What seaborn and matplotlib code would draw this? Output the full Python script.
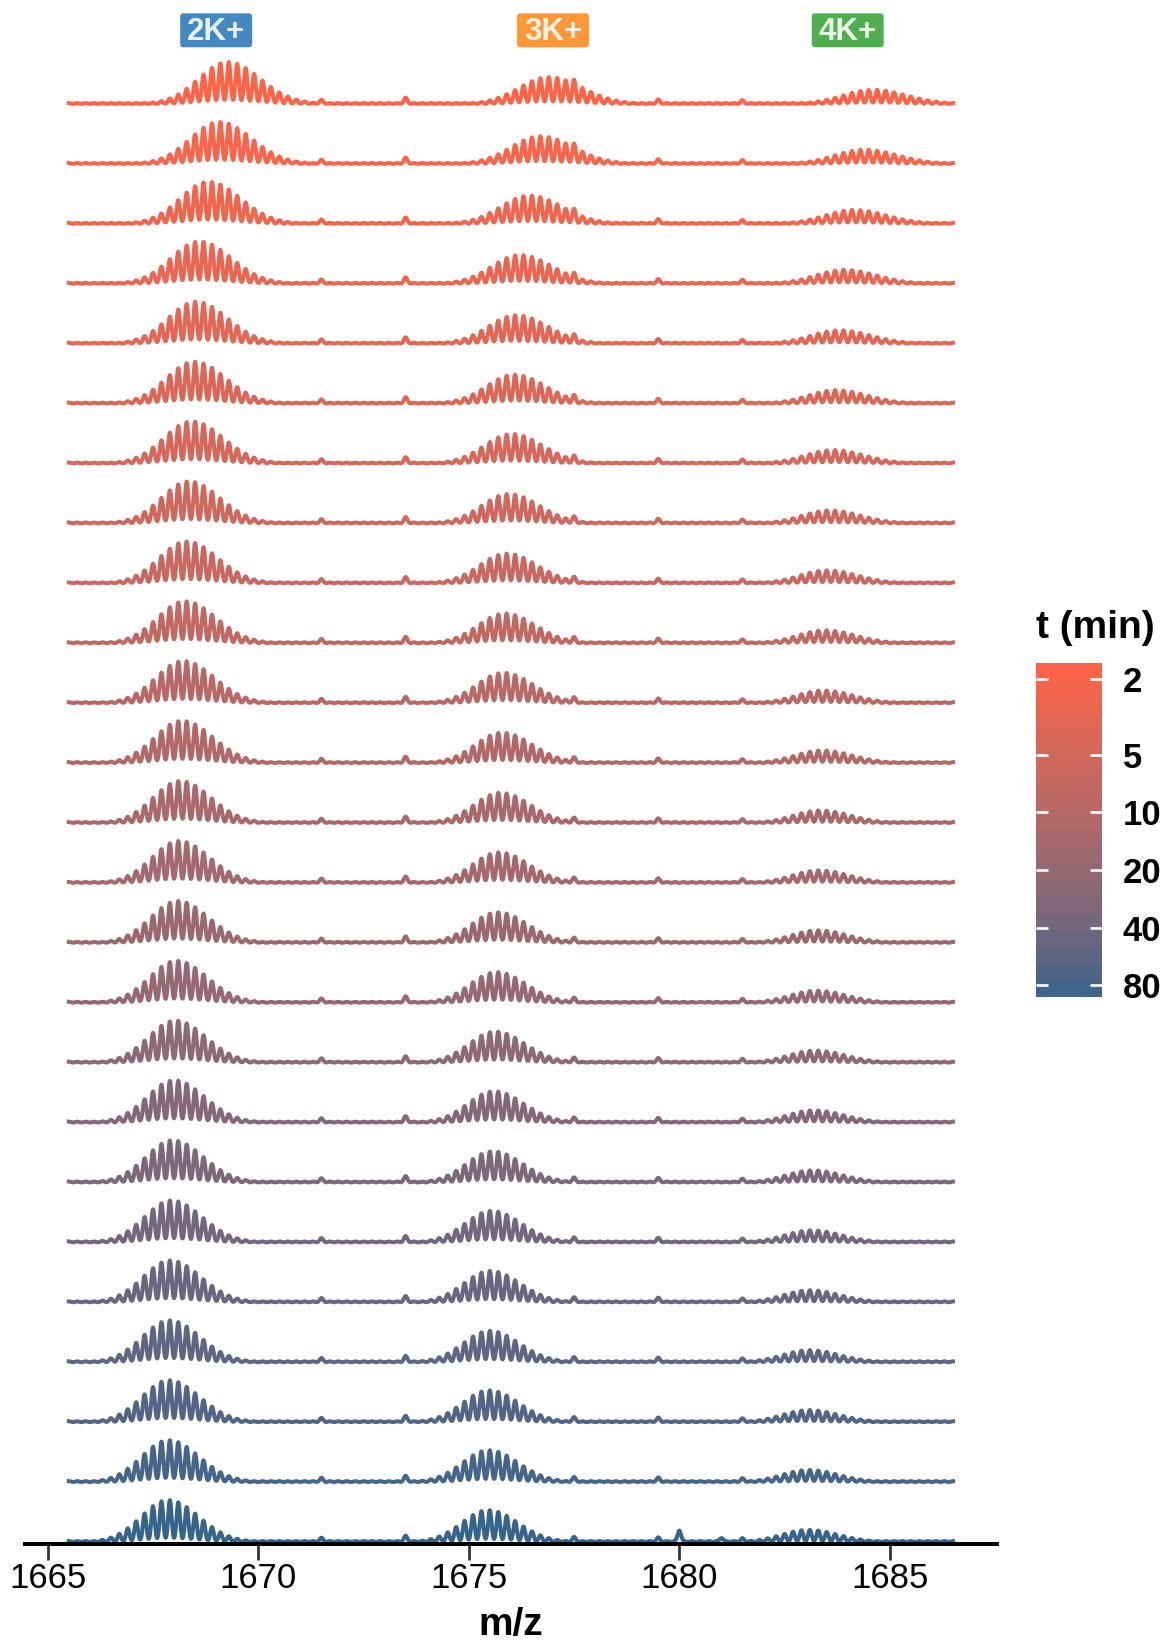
import numpy as np
import pandas as pd
import matplotlib
matplotlib.use("Agg")
import matplotlib.pyplot as plt
import seaborn as sns
from matplotlib.colors import LogNorm, ListedColormap, LinearSegmentedColormap
from matplotlib.patches import FancyBboxPatch
from matplotlib.cm import ScalarMappable

plt.rcParams["font.family"] = ["Liberation Sans", "DejaVu Sans"]

# ---------------------------------------------------------------- data
# acquisition time of each spectrum (min), top trace first
times = [1.66, 1.96, 2.32, 2.75, 3.24, 3.83, 4.53, 5.36, 6.33, 7.49, 8.85, 10.5,
         12.4, 14.6, 17.3, 20.4, 24.1, 28.5, 33.7, 39.9, 47.1, 55.7, 65.8, 77.8, 92.0]

# isotope-envelope centres (m/z) for the three potassium adduct states
center_2k = [1669.27, 1669.07, 1668.82, 1668.60, 1668.52, 1668.48, 1668.42, 1668.35,
             1668.30, 1668.26, 1668.22, 1668.19, 1668.15, 1668.12, 1668.09, 1668.06,
             1668.03, 1668.00, 1667.97, 1667.94, 1667.91, 1667.89, 1667.88, 1667.87, 1667.86]
center_3k = [1676.90, 1676.70, 1676.44, 1676.22, 1676.13, 1676.08, 1676.02, 1675.95,
             1675.90, 1675.86, 1675.82, 1675.79, 1675.75, 1675.72, 1675.69, 1675.66,
             1675.63, 1675.60, 1675.57, 1675.54, 1675.51, 1675.49, 1675.48, 1675.47, 1675.46]
center_4k = [1684.60, 1684.40, 1684.15, 1683.92, 1683.80, 1683.72, 1683.65, 1683.57,
             1683.51, 1683.46, 1683.42, 1683.39, 1683.35, 1683.32, 1683.29, 1683.26,
             1683.23, 1683.20, 1683.17, 1683.14, 1683.11, 1683.09, 1683.08, 1683.07, 1683.06]

# relative envelope heights (2K+ is the base peak of every spectrum)
height_2k = [1.0] * 25
height_3k = [0.64, 0.66, 0.67, 0.68, 0.68, 0.69, 0.70, 0.70, 0.71, 0.71, 0.72, 0.72,
             0.72, 0.73, 0.73, 0.73, 0.74, 0.74, 0.74, 0.75, 0.75, 0.75, 0.76, 0.76, 0.76]
height_4k = [0.34, 0.34, 0.33, 0.33, 0.32, 0.32, 0.32, 0.31, 0.31, 0.31, 0.30, 0.30,
             0.30, 0.30, 0.30, 0.29, 0.29, 0.29, 0.29, 0.29, 0.29, 0.29, 0.29, 0.29, 0.29]

# envelope widths (sd on the low-mass side, m/z)
width_2k = [0.68, 0.68, 0.67, 0.67, 0.66, 0.66, 0.66, 0.65, 0.65, 0.65, 0.65, 0.65,
            0.64, 0.64, 0.64, 0.64, 0.64, 0.64, 0.64, 0.64, 0.64, 0.64, 0.64, 0.64, 0.64]
width_3k = [0.70, 0.69, 0.68, 0.67, 0.66, 0.65, 0.65, 0.64, 0.64, 0.63, 0.63, 0.63,
            0.62, 0.62, 0.62, 0.62, 0.62, 0.62, 0.62, 0.62, 0.62, 0.62, 0.62, 0.62, 0.62]
width_4k = [0.70, 0.69, 0.68, 0.67, 0.66, 0.65, 0.65, 0.64, 0.64, 0.63, 0.63, 0.63,
            0.62, 0.62, 0.62, 0.62, 0.62, 0.62, 0.62, 0.62, 0.62, 0.62, 0.62, 0.62, 0.62]

# minor species present in every spectrum
minor_mz = [1671.5, 1673.5, 1677.5, 1679.5, 1681.5]
minor_h = [0.08, 0.13, 0.10, 0.09, 0.07]
# extra peaks seen only in the last spectrum
extra_mz = [1680.0, 1681.0]
extra_h = [0.27, 0.09]

tag_labels = ["2K+", "3K+", "4K+"]
tag_mz = [1669.0, 1677.0, 1684.0]
tag_colors = ["#4389C0", "#FF9736", "#4FAF4F"]

cbar_ticks = [2, 5, 10, 20, 40, 80]
x_ticks = [1665, 1670, 1675, 1680, 1685]

# ---------------------------------------------------------------- spectra
ISO_STEP = 0.2      # isotope spacing, z = 5
PEAK_SD = 0.041     # width of a single isotope peak
FLOOR = 0.022       # chemical-noise level
SKEW = 1.13         # high-mass side of an envelope is broader
ROW_GAP = 1.43      # vertical offset between stacked spectra

mz = np.arange(1665.5, 1686.5 + 1e-9, 0.004)
grid = np.arange(1665.5, 1686.5 + 1e-9, ISO_STEP)


def envelope(x, c, h, sd):
    s = np.where(x < c, sd, sd * SKEW)
    return h * np.exp(-0.5 * ((x - c) / s) ** 2)


def peaks(x, centres, heights, sd=PEAK_SD):
    c = np.asarray(centres)[None, :]
    h = np.asarray(heights)[None, :]
    return (h * np.exp(-0.5 * ((x[:, None] - c) / sd) ** 2)).sum(axis=1)


frames = []
n = len(times)
for i in range(n):
    env = (envelope(grid, center_2k[i], height_2k[i], width_2k[i])
           + envelope(grid, center_3k[i], height_3k[i], width_3k[i])
           + envelope(grid, center_4k[i], height_4k[i], width_4k[i]))
    env = np.maximum(env, FLOOR)
    spec = peaks(mz, grid, env) + peaks(mz, minor_mz, minor_h)
    if i == n - 1:
        spec = spec + peaks(mz, extra_mz, extra_h)
    spec = spec / spec[mz < 1671].max()
    frames.append(pd.DataFrame({"mz": mz,
                                "y": spec + ROW_GAP * (n - 1 - i),
                                "t": times[i]}))
df = pd.concat(frames, ignore_index=True)

# ---------------------------------------------------------------- colours
def srgb_to_lab(rgb):
    c = np.asarray(rgb, float)
    lin = np.where(c <= 0.04045, c / 12.92, ((c + 0.055) / 1.055) ** 2.4)
    M = np.array([[0.4124564, 0.3575761, 0.1804375],
                  [0.2126729, 0.7151522, 0.0721750],
                  [0.0193339, 0.1191920, 0.9503041]])
    xyz = M @ lin / np.array([0.95047, 1.0, 1.08883])
    d = 6 / 29
    f = np.where(xyz > d ** 3, np.cbrt(xyz), xyz / (3 * d * d) + 4 / 29)
    return np.array([116 * f[1] - 16, 500 * (f[0] - f[1]), 200 * (f[1] - f[2])])


def lab_to_srgb(lab):
    L, a, b = lab
    fy = (L + 16) / 116
    fx = fy + a / 500
    fz = fy - b / 200
    d = 6 / 29
    f = np.array([fx, fy, fz])
    xyz = np.where(f > d, f ** 3, 3 * d * d * (f - 4 / 29)) * np.array([0.95047, 1.0, 1.08883])
    Minv = np.array([[3.2404542, -1.5371385, -0.4985314],
                     [-0.9692660, 1.8760108, 0.0415560],
                     [0.0556434, -0.2040259, 1.0572252]])
    lin = np.clip(Minv @ xyz, 0, 1)
    c = np.where(lin <= 0.0031308, 12.92 * lin, 1.055 * lin ** (1 / 2.4) - 0.055)
    return np.clip(c, 0, 1)


high_col = np.array([255, 99, 71]) / 255     # tomato
low_col = np.array([54, 100, 139]) / 255     # steelblue4
lab_hi, lab_lo = srgb_to_lab(high_col), srgb_to_lab(low_col)
ramp = [lab_to_srgb(lab_hi + (lab_lo - lab_hi) * f) for f in np.linspace(0, 1, 256)]
cmap = LinearSegmentedColormap.from_list("time_ramp", ramp)
tmin, tmax = min(times), max(times)
norm = LogNorm(vmin=tmin, vmax=tmax)

# ---------------------------------------------------------------- figure
W_PX, H_PX = 1167, 1642
fig = plt.figure(figsize=(W_PX / 100, H_PX / 100), dpi=100)
fig.patch.set_facecolor("white")

px_per_unit = 41.9
ax_left, ax_right = 24.6, 997.2
ax_top, ax_bottom = 0.0, 1544.0
ax = fig.add_axes([ax_left / W_PX, (H_PX - ax_bottom) / H_PX,
                   (ax_right - ax_left) / W_PX, (ax_bottom - ax_top) / H_PX])

sns.lineplot(data=df, x="mz", y="y", hue="t", units="t", estimator=None,
             palette=cmap, hue_norm=norm, legend=False, sort=False,
             linewidth=2.9, ax=ax)

ax.set_xlim(1664.45, 1687.55)
y_lo = -2.0 / px_per_unit
ax.set_ylim(y_lo, y_lo + (ax_bottom - ax_top) / px_per_unit)
ax.set_facecolor("white")
for side in ("left", "right", "top"):
    ax.spines[side].set_visible(False)
ax.spines["bottom"].set_linewidth(2.9)
ax.spines["bottom"].set_color("black")
ax.set_yticks([])
ax.set_xticks(x_ticks)
ax.set_xticklabels([str(v) for v in x_ticks])
ax.tick_params(axis="x", length=11.2, width=2.0, color="#333333",
               labelsize=25, labelcolor="black", pad=1.5)
ax.set_xlabel("")
ax.set_ylabel("")

fig.text((ax_left + ax_right) / 2 / W_PX, 7 / H_PX, "m/z", ha="center",
         va="baseline", fontsize=28, fontweight="bold")

# adduct tags above the envelopes
to_fig = fig.transFigure.inverted()
for name, xm, col in zip(tag_labels, tag_mz, tag_colors):
    xd = ax.transData.transform((xm, 0))[0]
    x0, y0 = to_fig.transform((xd - 36, H_PX - 47.3))
    x1, y1 = to_fig.transform((xd + 36, H_PX - 13.3))
    box = FancyBboxPatch((x0, y0), x1 - x0, y1 - y0,
                         boxstyle="round,pad=0,rounding_size=0.003",
                         transform=fig.transFigure, fc=col, ec="none",
                         mutation_aspect=W_PX / H_PX)
    fig.add_artist(box)
    xt, yt = to_fig.transform((xd, H_PX - 40.0))
    fig.text(xt, yt, name, ha="center", va="baseline", fontsize=22.5,
             fontweight="bold", color="white", alpha=0.88)

# time colour bar (early times on top)
cb_left, cb_right, cb_top, cb_bottom = 1036, 1102, 663, 997
cax = fig.add_axes([cb_left / W_PX, (H_PX - cb_bottom) / H_PX,
                    (cb_right - cb_left) / W_PX, (cb_bottom - cb_top) / H_PX])
bins = ListedColormap([cmap(v) for v in (np.arange(20) + 0.5) / 20])
sm = ScalarMappable(norm=norm, cmap=bins)
cbar = fig.colorbar(sm, cax=cax)
cbar.outline.set_visible(False)
cbar.set_ticks(cbar_ticks)
cbar.set_ticklabels([str(v) for v in cbar_ticks])
cax.invert_yaxis()
cax.minorticks_off()
cax.yaxis.set_ticks_position("both")
cax.tick_params(axis="y", which="major", direction="in", length=8.6, width=1.9,
                color="white", left=True, right=True, labelleft=False,
                labelright=True, labelsize=25, labelcolor="black", pad=15)
for lab in cax.get_yticklabels():
    lab.set_fontweight("bold")

fig.text(cb_left / W_PX, (H_PX - 646) / H_PX, "t (min)", ha="left", va="bottom",
         fontsize=28, fontweight="bold")

fig.savefig("out.png", dpi=100)
